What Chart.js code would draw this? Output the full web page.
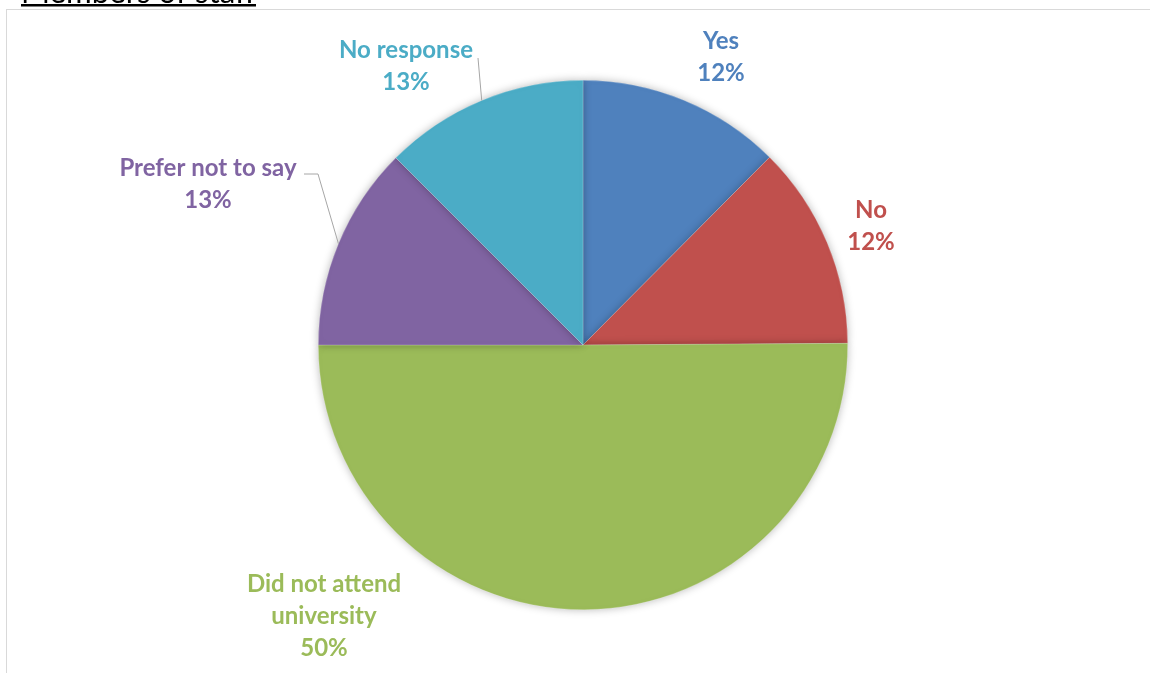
<!DOCTYPE html>
<html>
<head>
<meta charset="utf-8">
<script src="https://cdn.jsdelivr.net/npm/chart.js@4"></script>
<style>
  html, body { margin: 0; padding: 0; background: #fff; }
  body { width: 1150px; height: 673px; position: relative; overflow: hidden; }
  #frame { position: absolute; left: 6px; top: 9px; width: 1200px; height: 700px; border: 1px solid #d9d9d9; box-sizing: border-box; }
  #wrap { position: absolute; left: 0; top: 0; width: 1150px; height: 673px; }
</style>
</head>
<body>
<div id="frame"></div>
<div id="wrap"><canvas id="c" width="1150" height="673"></canvas></div>
<script>
// ---- data ----
const titleText = "Members of staff";
const categories = ["Yes", "No", "Did not attend university", "Prefer not to say", "No response"];
const labelLines = [["Yes"], ["No"], ["Did not attend", "university"], ["Prefer not to say"], ["No response"]];
const values = [12.45, 12.45, 50.1, 12.5, 12.5];
const colors = ["#4F81BD", "#C0504D", "#9BBB59", "#8064A2", "#4BACC6"];

// ---- label layout (block centre relative to pie centre, px) ----
const labelOffsets = [[138, -288], [288, -119], [-259, 271], [-375, -161], [-177, -279]];
// leader lines: elbow points relative to pie centre, then to arc mid-point
const leaders = { 3: [[-279, -171], [-265, -171]], 4: [[-105, -287]] };

const FONT = "bold 24px Lato";
const LINE_H = 32;

const labelPlugin = {
  id: 'labels',
  afterDatasetsDraw(chart) {
    const ctx = chart.ctx;
    const meta = chart.getDatasetMeta(0);
    const total = values.reduce((a, b) => a + b, 0);
    ctx.save();
    meta.data.forEach((arc, i) => {
      const cx = arc.x, cy = arc.y, r = arc.outerRadius;
      if (leaders[i]) {
        const mid = (arc.startAngle + arc.endAngle) / 2;
        ctx.beginPath();
        ctx.strokeStyle = "#a6a6a6";
        ctx.lineWidth = 1;
        leaders[i].forEach((p, k) => {
          if (k === 0) ctx.moveTo(cx + p[0], cy + p[1]); else ctx.lineTo(cx + p[0], cy + p[1]);
        });
        ctx.lineTo(cx + Math.cos(mid) * r, cy + Math.sin(mid) * r);
        ctx.stroke();
      }
      const lines = labelLines[i].concat([Math.round(values[i] / total * 100) + "%"]);
      const bx = cx + labelOffsets[i][0];
      const by = cy + labelOffsets[i][1];
      ctx.font = FONT;
      ctx.fillStyle = colors[i];
      ctx.textAlign = "center";
      ctx.textBaseline = "middle";
      const n = lines.length;
      lines.forEach((t, k) => {
        ctx.fillText(t, bx, by + (k - (n - 1) / 2) * LINE_H);
      });
    });
    ctx.restore();
  }
};

const shadowPlugin = {
  id: 'shadow',
  beforeDatasetsDraw(chart) {
    const ctx = chart.ctx;
    ctx.save();
    ctx.shadowColor = "rgba(0,0,0,0.28)";
    ctx.shadowBlur = 9;
    ctx.shadowOffsetX = 0;
    ctx.shadowOffsetY = 0;
  },
  afterDatasetsDraw(chart) {
    chart.ctx.restore();
  }
};

const titlePlugin = {
  id: 'titleU',
  afterDraw(chart) {
    const ctx = chart.ctx;
    ctx.save();
    ctx.font = "28px Lato";
    const w0 = ctx.measureText(titleText).width;
    const size = 28 * 235 / w0;
    ctx.font = size + "px Lato";
    ctx.fillStyle = "#000";
    ctx.textAlign = "left";
    ctx.textBaseline = "alphabetic";
    ctx.fillText(titleText, 21, 2.5);
    ctx.fillRect(21, 4, 235, 2.5);
    ctx.restore();
  }
};

new Chart(document.getElementById('c'), {
  type: 'pie',
  data: {
    labels: categories,
    datasets: [{
      data: values,
      backgroundColor: colors,
      borderWidth: 0.6,
      borderColor: "rgba(255,255,255,0.35)"
    }]
  },
  options: {
    responsive: false,
    animation: false,
    layout: { padding: { top: 80, bottom: 63, left: 318, right: 302 } },
    plugins: {
      legend: { display: false },
      tooltip: { enabled: false },
      title: { display: false }
    }
  },
  plugins: [shadowPlugin, labelPlugin, titlePlugin]
});
</script>
</body>
</html>
